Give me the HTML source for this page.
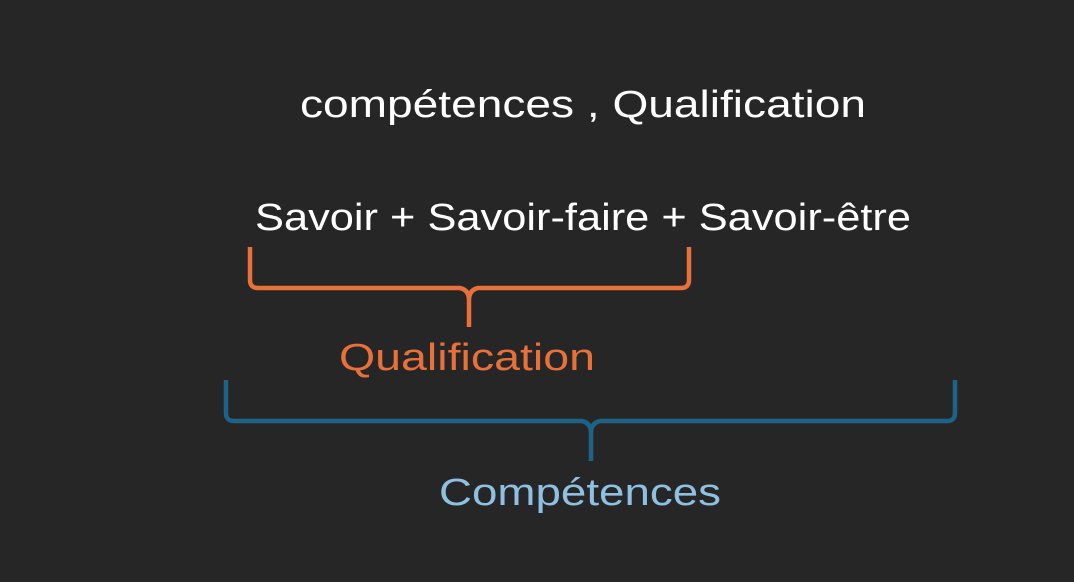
<!DOCTYPE html>
<html><head><style>
html,body{margin:0;padding:0;background:#262626;width:1074px;height:582px;overflow:hidden}
svg{display:block}
text{font-family:"Liberation Sans",sans-serif;font-size:38px}
</style></head><body>
<svg width="1074" height="582" viewBox="0 0 1074 582">
<rect width="1074" height="582" fill="#262626"/>
<text x="583" y="117" fill="#ffffff" text-anchor="middle" textLength="566" lengthAdjust="spacingAndGlyphs">compétences , Qualification</text>
<text x="583" y="230" fill="#ffffff" text-anchor="middle" textLength="656" lengthAdjust="spacingAndGlyphs">Savoir + Savoir-faire + Savoir-être</text>
<path d="M250 247 V280 Q250 288 258 288 H460 Q469 290 469 300 V327 M469 300 Q469 290 478 288 H681 Q689 288 689 280 V247" fill="none" stroke="#e8703a" stroke-width="4.5"/>
<text x="467" y="370" fill="#e8703a" text-anchor="middle" textLength="256" lengthAdjust="spacingAndGlyphs">Qualification</text>
<path d="M226 380 V413 Q226 421 234 421 H582 Q591 423 591 433 V461 M591 433 Q591 423 600 421 H947 Q955 421 955 413 V380" fill="none" stroke="#1f6287" stroke-width="4.5"/>
<text x="580" y="505" fill="#8ec0e2" text-anchor="middle" textLength="282" lengthAdjust="spacingAndGlyphs">Compétences</text>
</svg>
</body></html>
